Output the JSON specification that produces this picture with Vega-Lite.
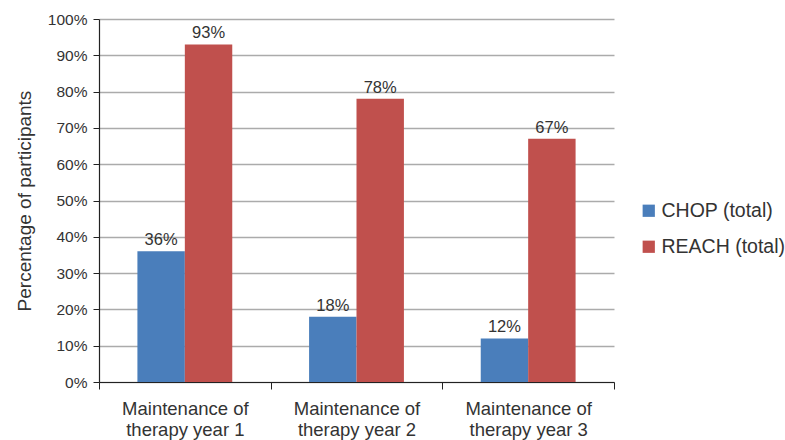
{
  "$schema": "https://vega.github.io/schema/vega-lite/v6.json",
  "autosize": "none",
  "width": 515,
  "height": 363,
  "padding": {"left": 99, "top": 19, "right": 171, "bottom": 58},
  "background": "white",
  "config": {
    "font": "Liberation Sans",
    "view": {"stroke": null}
  },
  "data": {
    "values": [
      {"cat": "Maintenance of|therapy year 1", "group": "CHOP (total)", "value": 36},
      {"cat": "Maintenance of|therapy year 1", "group": "REACH (total)", "value": 93},
      {"cat": "Maintenance of|therapy year 2", "group": "CHOP (total)", "value": 18},
      {"cat": "Maintenance of|therapy year 2", "group": "REACH (total)", "value": 78},
      {"cat": "Maintenance of|therapy year 3", "group": "CHOP (total)", "value": 12},
      {"cat": "Maintenance of|therapy year 3", "group": "REACH (total)", "value": 67}
    ]
  },
  "encoding": {
    "x": {
      "field": "cat",
      "type": "nominal",
      "sort": null,
      "scale": {"paddingInner": 0, "paddingOuter": 0},
      "axis": {
        "title": null,
        "labelAngle": 0,
        "labelExpr": "isValid(datum.value) ? split(datum.value, '|') : ''",
        "labelFont": "Liberation Sans",
        "labelFontSize": 18.5,
        "labelColor": "#333333",
        "labelPadding": 10,
        "labelLineHeight": 21,
        "tickBand": "extent",
        "tickSize": 7,
        "tickColor": "#222222",
        "domainColor": "#222222",
        "domainWidth": 1.2,
        "grid": false
      }
    },
    "xOffset": {
      "field": "group",
      "type": "nominal",
      "scale": {"paddingInner": 0, "paddingOuter": 0.81}
    },
    "y": {
      "field": "value",
      "type": "quantitative",
      "scale": {"domain": [0, 100]},
      "axis": {
        "title": "Percentage of participants",
        "titleFont": "Liberation Sans",
        "titleFontSize": 19,
        "titleFontWeight": "normal",
        "titleColor": "#333333",
        "titlePadding": 13,
        "values": [0, 10, 20, 30, 40, 50, 60, 70, 80, 90, 100],
        "labelExpr": "datum.value + '%'",
        "labelFont": "Liberation Sans",
        "labelFontSize": 15.5,
        "labelColor": "#333333",
        "labelPadding": 6,
        "tickSize": 6,
        "tickColor": "#222222",
        "domainColor": "#222222",
        "domainWidth": 1.2,
        "grid": true,
        "gridColor": "#ababab",
        "gridWidth": 1.5
      }
    }
  },
  "layer": [
    {
      "mark": {"type": "bar"},
      "encoding": {
        "color": {
          "field": "group",
          "type": "nominal",
          "scale": {"range": ["#4a7ebb", "#c0504d"]},
          "legend": {
            "title": null,
            "orient": "none",
            "legendX": 540,
            "legendY": 182,
            "symbolType": "square",
            "symbolSize": 150,
            "symbolStrokeWidth": 0,
            "labelFont": "Liberation Sans",
            "labelFontSize": 19.5,
            "labelColor": "#333333",
            "labelOffset": 3,
            "rowPadding": 15
          }
        }
      }
    },
    {
      "mark": {"type": "text", "dy": -11, "fontSize": 16.5, "color": "#333333", "font": "Liberation Sans"},
      "encoding": {
        "text": {"field": "label", "type": "nominal"},
        "detail": {"field": "group"}
      },
      "transform": [{"calculate": "datum.value + '%'", "as": "label"}]
    }
  ]
}
